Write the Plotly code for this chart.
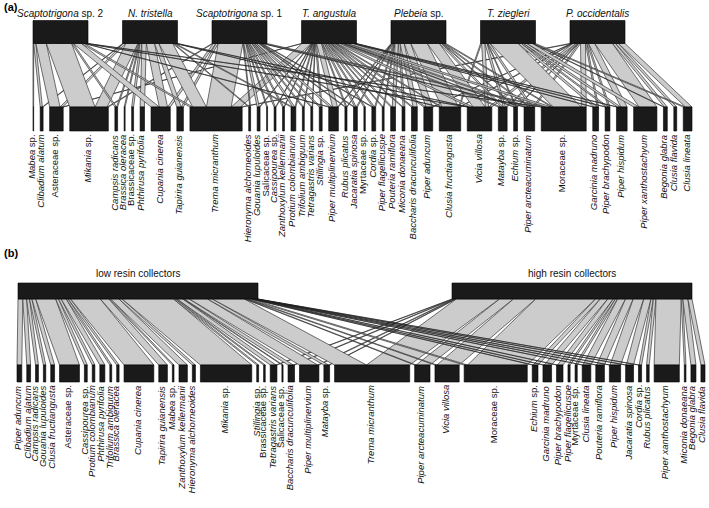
import plotly.graph_objects as go

# ---------------- DATA ----------------
BEES_A = ["Scaptotrigona sp. 2", "N. tristella", "Scaptotrigona sp. 1", "T. angustula",
          "Plebeia sp.", "T. ziegleri", "P. occidentalis"]

PLANTS_A = ["Mabea sp.", "Clibadium alatum", "Asteraceae sp.", "Mikania sp.", "Campsis radicans",
            "Brassica oleracea", "Brassicaceae sp.", "Phthirusa pyrifolia", "Cupania cinerea",
            "Tapirira guianensis", "Trema micranthum", "Hieronyma alchorneoides", "Gouania lupuloides",
            "Salicaceae sp.", "Cassipourea sp.", "Zanthoxylum kellermanii", "Protium colombianum",
            "Trifolium ambiguum", "Tetragastris varians", "Stillingia sp.", "Piper multiplinervium",
            "Rubus plicatus", "Jacaratia spinosa", "Myrtaceae sp.", "Cordia sp.", "Piper flagellicuspe",
            "Pouteria ramiflora", "Miconia donaeana", "Baccharis dracunculifolia", "Piper aduncum",
            "Clusia fructiangusta", "Vicia villosa", "Matayba sp.", "Echium sp.", "Piper arcteacuminatum",
            "Moraceae sp.", "Garcinia madruno", "Piper brachypodon", "Piper hispidum",
            "Piper xanthostachyum", "Begonia glabra", "Clusia flavida", "Clusia lineata"]

# proportion (%) of each plant in each bee's diet (panel a)
SCAPTO2_A = {"Mabea sp.": 1.2, "Clibadium alatum": 4, "Asteraceae sp.": 19, "Mikania sp.": 46,
             "Campsis radicans": 3, "Cupania cinerea": 15, "Trema micranthum": 5,
             "Piper multiplinervium": 2, "Vicia villosa": 2, "Moraceae sp.": 2.8}
TRISTELLA_A = {"Clibadium alatum": 1.3, "Asteraceae sp.": 4.7, "Mikania sp.": 22, "Campsis radicans": 2,
               "Brassica oleracea": 1.8, "Brassicaceae sp.": 3.5, "Phthirusa pyrifolia": 8,
               "Cupania cinerea": 15, "Tapirira guianensis": 8, "Trema micranthum": 25,
               "Hieronyma alchorneoides": 2, "Protium colombianum": 3, "Clusia fructiangusta": 2,
               "Vicia villosa": 1.7}
SCAPTO1_A = {"Mikania sp.": 2.2, "Cupania cinerea": 5, "Tapirira guianensis": 4, "Trema micranthum": 45,
             "Hieronyma alchorneoides": 1.5, "Gouania lupuloides": 4, "Salicaceae sp.": 1.8,
             "Cassipourea sp.": 2.5, "Zanthoxylum kellermanii": 2.5, "Protium colombianum": 4,
             "Trifolium ambiguum": 2.5, "Tetragastris varians": 2.5, "Stillingia sp.": 3,
             "Piper multiplinervium": 5, "Rubus plicatus": 1.5, "Jacaratia spinosa": 2, "Cordia sp.": 2,
             "Piper arcteacuminatum": 3, "Moraceae sp.": 6}
ANGUSTULA_A = {"Asteraceae sp.": 1, "Trema micranthum": 17, "Gouania lupuloides": 1.3, "Cassipourea sp.": 1,
               "Zanthoxylum kellermanii": 1, "Protium colombianum": 1.8, "Trifolium ambiguum": 1,
               "Tetragastris varians": 1, "Stillingia sp.": 2.3, "Piper multiplinervium": 9,
               "Rubus plicatus": 2, "Jacaratia spinosa": 3, "Myrtaceae sp.": 2.6, "Cordia sp.": 3,
               "Piper flagellicuspe": 2, "Pouteria ramiflora": 3, "Miconia donaeana": 2,
               "Baccharis dracunculifolia": 3, "Piper aduncum": 4, "Clusia fructiangusta": 3,
               "Vicia villosa": 7, "Matayba sp.": 5, "Echium sp.": 2, "Piper arcteacuminatum": 6,
               "Moraceae sp.": 10, "Garcinia madruno": 2, "Piper brachypodon": 2, "Piper hispidum": 2}
PLEBEIA_A = {"Piper multiplinervium": 1.6, "Rubus plicatus": 0.3, "Jacaratia spinosa": 2, "Cordia sp.": 2,
             "Piper flagellicuspe": 1.5, "Pouteria ramiflora": 5.8, "Miconia donaeana": 3.3,
             "Baccharis dracunculifolia": 7.6, "Piper aduncum": 11.9, "Clusia fructiangusta": 30,
             "Vicia villosa": 22, "Matayba sp.": 4, "Echium sp.": 2, "Piper arcteacuminatum": 3,
             "Moraceae sp.": 3}
ZIEGLERI_A = {"Clusia fructiangusta": 2, "Vicia villosa": 6, "Matayba sp.": 4, "Echium sp.": 1.5,
              "Piper arcteacuminatum": 4, "Moraceae sp.": 51, "Garcinia madruno": 6,
              "Piper brachypodon": 4, "Piper hispidum": 6, "Piper xanthostachyum": 10,
              "Begonia glabra": 1.5, "Clusia lineata": 4}
OCCIDENTALIS_A = {"Trema micranthum": 3, "Piper aduncum": 0.3, "Clusia fructiangusta": 2, "Vicia villosa": 6,
                  "Matayba sp.": 3, "Echium sp.": 1.5, "Piper arcteacuminatum": 3.4, "Moraceae sp.": 9,
                  "Garcinia madruno": 2.6, "Piper brachypodon": 2.8, "Piper hispidum": 11.4,
                  "Piper xanthostachyum": 32.3, "Begonia glabra": 5.5, "Clusia flavida": 5.3,
                  "Clusia lineata": 11.9}

GROUPS_B = ["low resin collectors", "high resin collectors"]

PLANTS_B = ["Piper aduncum", "Clibadium alatum", "Campsis radicans", "Gouania lupuloides",
            "Clusia fructiangusta", "Asteraceae sp.", "Cassipourea sp.", "Protium colombianum",
            "Phthirusa pyrifolia", "Trifolium ambiguum", "Brassica oleracea", "Cupania cinerea",
            "Tapirira guianensis", "Mabea sp.", "Zanthoxylum kellermanii", "Hieronyma alchorneoides",
            "Mikania sp.", "Stillingia sp.", "Brassicaceae sp.", "Tetragastris varians", "Salicaceae sp.",
            "Baccharis dracunculifolia", "Piper multiplinervium", "Matayba sp.", "Trema micranthum",
            "Piper arcteacuminatum", "Vicia villosa", "Moraceae sp.", "Echium sp.", "Garcinia madruno",
            "Piper brachypodon", "Piper flagellicuspe", "Myrtaceae sp.", "Clusia lineata",
            "Pouteria ramiflora", "Piper hispidum", "Jacaratia spinosa", "Cordia sp.", "Rubus plicatus",
            "Piper xanthostachyum", "Miconia donaeana", "Begonia glabra", "Clusia flavida"]

LOW_B = {"Piper aduncum": 2.0, "Clibadium alatum": 1.6, "Campsis radicans": 1.2, "Gouania lupuloides": 1.0,
         "Clusia fructiangusta": 1.6, "Asteraceae sp.": 8.3, "Cassipourea sp.": 1.2,
         "Protium colombianum": 1.1, "Phthirusa pyrifolia": 2.1, "Trifolium ambiguum": 0.8,
         "Brassica oleracea": 1.0, "Cupania cinerea": 12.4, "Tapirira guianensis": 3.6, "Mabea sp.": 0.7,
         "Zanthoxylum kellermanii": 3.5, "Hieronyma alchorneoides": 1.3, "Mikania sp.": 21.4,
         "Stillingia sp.": 0.8, "Brassicaceae sp.": 0.7, "Tetragastris varians": 2.4, "Salicaceae sp.": 0.5,
         "Baccharis dracunculifolia": 2.2, "Piper multiplinervium": 7.6, "Matayba sp.": 2.0,
         "Trema micranthum": 13.3, "Piper arcteacuminatum": 0.6, "Vicia villosa": 0.8, "Moraceae sp.": 1.4,
         "Echium sp.": 0.4, "Garcinia madruno": 0.5, "Piper brachypodon": 0.4, "Clusia lineata": 0.3,
         "Pouteria ramiflora": 0.4, "Piper hispidum": 0.3, "Jacaratia spinosa": 0.3, "Cordia sp.": 0.3}
HIGH_B = {"Tetragastris varians": 0.4, "Baccharis dracunculifolia": 0.5, "Piper multiplinervium": 0.5,
          "Matayba sp.": 0.4, "Trema micranthum": 18.0, "Piper arcteacuminatum": 5.8, "Vicia villosa": 9.3,
          "Moraceae sp.": 24.9, "Echium sp.": 2.0, "Garcinia madruno": 3.1, "Piper brachypodon": 2.3,
          "Piper flagellicuspe": 0.9, "Myrtaceae sp.": 0.9, "Clusia lineata": 3.3, "Pouteria ramiflora": 3.2,
          "Piper hispidum": 4.4, "Jacaratia spinosa": 3.0, "Cordia sp.": 1.0, "Rubus plicatus": 1.1,
          "Piper xanthostachyum": 10.5, "Miconia donaeana": 0.7, "Begonia glabra": 2.1, "Clusia flavida": 1.7}

# ---------------- LAYOUT / STYLE ----------------
W, H = 709, 508
FONT = "Liberation Sans"
BOX_COL = "#1a1a1a"
LINK_COL = "#cccccc"
LINE_COL = "#1a1a1a"
LABEL_DX = -2

PANEL_A = dict(top_x=(33, 625), bot_x=(33, 692), top_y=(20.5, 43.5), bot_y=(107, 131),
               label_y=133.5, name_y=13.5, scale=0.55, italic_top=True, tag="(a)", tag_y=7)
PANEL_B = dict(top_x=(18, 692), bot_x=(17, 705), top_y=(283, 299), bot_y=(365, 382),
               label_y=384.5, name_y=273, scale=2.4, italic_top=False, tag="(b)", tag_y=253)


def fmt(name, italic=True):
    if not italic:
        return name
    words = name.split()
    if words[0].endswith("aceae"):
        return name
    out = []
    for w in words:
        if w == "sp." or w.isdigit():
            out.append(w)
        else:
            out.append("<i>" + w + "</i>")
    return " ".join(out)


def row(totals, x0, x1, scale):
    widths = [t * scale for t in totals]
    gap = (x1 - x0 - sum(widths)) / (len(widths) - 1)
    starts, x = [], x0
    for w in widths:
        starts.append(x)
        x += w + gap
    return starts, widths


fig = go.Figure()
shapes, annotations = [], []


def draw_web(highs, high_maps, lows, cfg):
    for hm in high_maps:
        for k in hm:
            assert k in lows, k
    M = [[hm.get(p, 0.0) for p in lows] for hm in high_maps]
    nh, nl = len(highs), len(lows)
    top_tot = [sum(r) for r in M]
    bot_tot = [sum(M[j][i] for j in range(nh)) for i in range(nl)]
    sc = cfg["scale"]
    ts, tw = row(top_tot, *cfg["top_x"], sc)
    bs, bw = row(bot_tot, *cfg["bot_x"], sc)
    y_top = cfg["top_y"][1]
    y_bot = cfg["bot_y"][0]
    tcur = list(ts)
    bcur = list(bs)
    for i in range(nl):
        for j in range(nh):
            v = M[j][i]
            if v <= 0:
                continue
            w = v * sc
            xs = [tcur[j], tcur[j] + w, bcur[i] + w, bcur[i], tcur[j]]
            ys = [y_top, y_top, y_bot, y_bot, y_top]
            fig.add_trace(go.Scatter(x=xs, y=ys, mode="lines", fill="toself", fillcolor=LINK_COL,
                                     line=dict(color=LINE_COL, width=0.6), hoverinfo="skip",
                                     showlegend=False))
            tcur[j] += w
            bcur[i] += w
    for j in range(nh):
        shapes.append(dict(type="rect", xref="x", yref="y", x0=ts[j], x1=ts[j] + tw[j],
                           y0=cfg["top_y"][0], y1=cfg["top_y"][1], fillcolor=BOX_COL,
                           line=dict(color="#000", width=0.6), layer="above"))
        annotations.append(dict(x=ts[j] + tw[j] / 2, y=cfg["name_y"], xref="x", yref="y",
                                text=fmt(highs[j], cfg["italic_top"]), showarrow=False,
                                xanchor="center", yanchor="middle",
                                font=dict(family=FONT, size=10, color="#111")))
    for i in range(nl):
        shapes.append(dict(type="rect", xref="x", yref="y", x0=bs[i], x1=bs[i] + bw[i],
                           y0=cfg["bot_y"][0], y1=cfg["bot_y"][1], fillcolor=BOX_COL,
                           line=dict(color="#000", width=0.6), layer="above"))
        annotations.append(dict(x=bs[i] + bw[i] / 2 + LABEL_DX, y=cfg["label_y"], xref="x", yref="y",
                                text=fmt(lows[i]), showarrow=False, textangle=-90,
                                xanchor="center", yanchor="top", borderpad=0,
                                font=dict(family=FONT, size=9.5, color="#111")))
    annotations.append(dict(x=2, y=cfg["tag_y"], xref="x", yref="y", text="<b>" + cfg["tag"] + "</b>",
                            showarrow=False, xanchor="left", yanchor="middle",
                            font=dict(family=FONT, size=11, color="#000")))


draw_web(BEES_A, [SCAPTO2_A, TRISTELLA_A, SCAPTO1_A, ANGUSTULA_A, PLEBEIA_A, ZIEGLERI_A, OCCIDENTALIS_A],
         PLANTS_A, PANEL_A)
draw_web(GROUPS_B, [LOW_B, HIGH_B], PLANTS_B, PANEL_B)

fig.update_layout(width=W, height=H, margin=dict(l=0, r=0, t=0, b=0),
                  paper_bgcolor="white", plot_bgcolor="white", showlegend=False,
                  shapes=shapes, annotations=annotations,
                  xaxis=dict(range=[0, W], visible=False, fixedrange=True),
                  yaxis=dict(range=[H, 0], visible=False, fixedrange=True))
fig.write_html("out.html", config={"displayModeBar": False},
               post_script="document.body.style.margin='0';document.body.style.padding='0';"
                           "document.body.style.overflow='hidden';")
